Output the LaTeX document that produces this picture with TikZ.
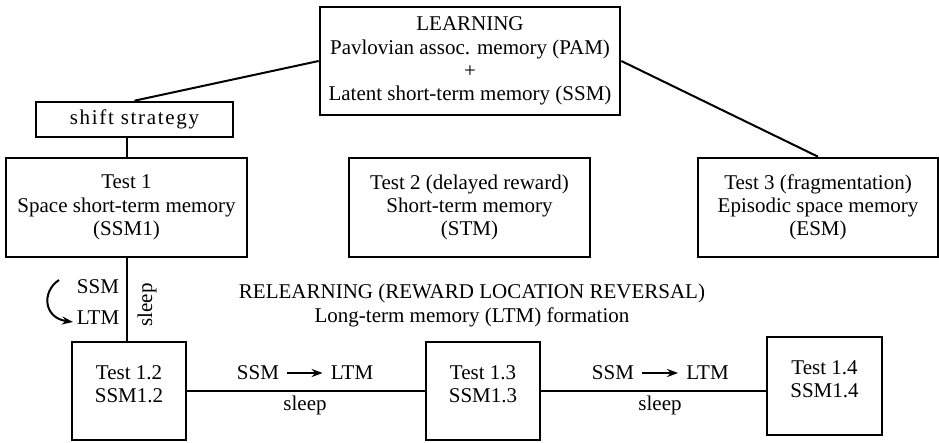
\documentclass[tikz,border=0pt]{standalone}
\usepackage{fontspec}
\setmainfont{Liberation Serif}
\usetikzlibrary{arrows.meta}
\begin{document}
\begin{tikzpicture}[x=1pt,y=-1pt,
  box/.style={draw, line width=2.6pt, align=center, inner sep=0pt,
    font=\fontsize{21}{23.3}\selectfont},
  txt/.style={align=center, inner sep=0pt, font=\fontsize{21}{23.3}\selectfont},
  link/.style={line width=2pt},
  tip/.style={-{Stealth[length=11pt,width=8pt]}, line width=2pt},
  ]
\useasboundingbox (0,0) rectangle (939,443);

% top level
\node[box, minimum width=300pt, minimum height=108pt] (learn) at (470,61)
  {LEARNING\\Pavlovian assoc. memory (PAM)\\+\\Latent short-term memory (SSM)};
\node[box, minimum width=197pt, minimum height=35pt] (shift) at (134.5,119.5)
  {\addfontfeature{LetterSpace=8}shift strategy};

% tests
\node[box, minimum width=241pt, minimum height=99pt] (t1) at (126.5,207.5)
  {Test 1\\Space short-term memory\\(SSM1)};
\node[box, minimum width=241pt, minimum height=99pt] (t2) at (469.5,207.5)
  {Test 2 (delayed reward)\\Short-term memory\\(STM)};
\node[box, minimum width=240pt, minimum height=99pt] (t3) at (818,207.5)
  {Test 3 (fragmentation)\\Episodic space memory\\(ESM)};

% relearning series
\node[box, minimum width=114pt, minimum height=98pt, text depth=14pt] (t12) at (129,391)
  {Test 1.2\\SSM1.2};
\node[box, minimum width=114pt, minimum height=98pt, text depth=14pt] (t13) at (483,391)
  {Test 1.3\\SSM1.3};
\node[box, minimum width=115pt, minimum height=98pt, text depth=14pt] (t14) at (824.5,386)
  {Test 1.4\\SSM1.4};

% connectors
\draw[link] (learn.west) -- (shift.north);
\draw[link] (learn.east) -- (t3.north);
\draw[link] (t1.north) -- (t1.north |- shift.south);
\draw[link] (t1.south) -- (t1.south |- t12.north);
\draw[link] (t12.east) -- (t13.west);
\draw[link] (t13.east) -- (t13.east -| t14.west);

% relearning heading
\node[txt] (rl1) at (472,293) {RELEARNING (REWARD LOCATION REVERSAL)};
\node[txt] (rl2) at (472,317) {Long-term memory (LTM) formation};

% consolidation labels, first step
\node[txt] (s0) at (98,287) {SSM};
\node[txt] (l0) at (98,318) {LTM};
\coordinate (c0) at (59,280);
\coordinate (c1) at (73,322);
\draw[tip] (c0) .. controls (41,292) and (44,318) .. (c1);
\node[txt, rotate=90] (sl0) at (147,305) {sleep};

% consolidation labels between tests
\node[txt] (s1) at (258,373) {SSM};
\node[txt] (l1) at (352,373) {LTM};
\draw[tip] ([xshift=8pt]s1.east) -- ([xshift=-8pt]l1.west);
\node[txt] (sl1) at (305,405) {sleep};

\node[txt] (s2) at (613,373) {SSM};
\node[txt] (l2) at (707.5,373) {LTM};
\draw[tip] ([xshift=8pt]s2.east) -- ([xshift=-8pt]l2.west);
\node[txt] (sl2) at (660,405) {sleep};
\end{tikzpicture}
\end{document}
